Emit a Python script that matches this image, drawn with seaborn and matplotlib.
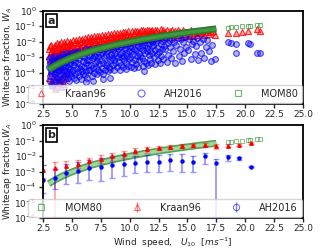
import numpy as np
import matplotlib
matplotlib.use("Agg")
import matplotlib.pyplot as plt
from matplotlib.lines import Line2D
from matplotlib.ticker import FixedLocator, NullLocator
import seaborn as sns

# -----------------------------
# Data (log10 of whitecap fraction W_A)
# -----------------------------
# panel a: individual estimates, (U10, log10 W)
kraan96_pts = [
    (3.02, -2.5), (3.06, -2.9), (3.1, -2.3), (3.14, -3.2), (3.18, -2.65), (3.22, -2.2),
    (3.26, -3.0), (3.3, -2.45), (3.34, -2.8), (3.38, -3.3), (3.42, -2.35), (3.46, -2.6),
    (3.52, -2.75), (3.56, -2.2), (3.6, -3.05), (3.64, -2.5), (3.68, -2.9), (3.72, -2.1),
    (3.76, -2.65), (3.8, -3.2), (3.84, -2.35), (3.88, -2.8), (3.92, -2.15), (3.96, -2.55),
    (4.02, -2.4), (4.06, -2.85), (4.1, -2.05), (4.14, -2.6), (4.18, -3.05), (4.22, -2.25),
    (4.26, -2.7), (4.3, -2.0), (4.34, -2.5), (4.38, -2.95), (4.42, -2.15), (4.46, -2.6),
    (4.52, -2.3), (4.56, -2.75), (4.6, -1.95), (4.64, -2.5), (4.68, -2.95), (4.72, -2.15),
    (4.76, -2.6), (4.8, -2.0), (4.84, -2.4), (4.88, -2.85), (4.92, -2.1), (4.96, -2.55),
    (5.03, -2.2), (5.08, -2.65), (5.13, -1.9), (5.18, -2.45), (5.23, -2.85), (5.28, -2.05),
    (5.33, -2.55), (5.38, -1.88), (5.43, -2.3), (5.48, -2.75),
    (5.53, -2.1), (5.58, -2.5), (5.63, -1.82), (5.68, -2.35), (5.73, -2.75), (5.78, -1.98),
    (5.83, -2.4), (5.88, -1.8), (5.93, -2.2), (5.98, -2.6),
    (6.03, -2.0), (6.08, -2.45), (6.13, -1.75), (6.18, -2.25), (6.23, -2.65), (6.28, -1.9),
    (6.33, -2.35), (6.38, -1.72), (6.43, -2.1), (6.48, -2.5),
    (6.53, -1.95), (6.58, -2.35), (6.63, -1.7), (6.68, -2.15), (6.73, -2.55), (6.78, -1.85),
    (6.83, -2.25), (6.88, -1.66), (6.93, -2.05), (6.98, -2.4),
    (7.03, -1.9), (7.08, -2.3), (7.13, -1.64), (7.18, -2.1), (7.23, -2.45), (7.28, -1.8),
    (7.33, -2.2), (7.38, -1.62), (7.43, -1.98), (7.48, -2.35),
    (7.53, -1.85), (7.58, -2.25), (7.63, -1.58), (7.68, -2.05), (7.73, -2.4), (7.78, -1.75),
    (7.83, -2.12), (7.88, -1.56), (7.93, -1.95), (7.98, -2.3),
    (8.03, -1.8), (8.08, -2.15), (8.13, -1.52), (8.18, -1.98), (8.23, -2.32), (8.28, -1.68),
    (8.33, -2.05), (8.38, -1.5), (8.43, -1.88), (8.48, -2.2),
    (8.53, -1.72), (8.58, -2.1), (8.63, -1.47), (8.68, -1.92), (8.73, -2.25), (8.78, -1.62),
    (8.83, -2.0), (8.88, -1.45), (8.93, -1.82), (8.98, -2.15),
    (9.03, -1.68), (9.08, -2.02), (9.13, -1.42), (9.18, -1.85), (9.23, -2.18), (9.28, -1.58),
    (9.33, -1.95), (9.38, -1.4), (9.43, -1.75), (9.48, -2.08),
    (9.53, -1.62), (9.58, -1.95), (9.63, -1.36), (9.68, -1.8), (9.73, -2.1), (9.78, -1.5),
    (9.83, -1.88), (9.88, -1.33), (9.93, -1.7), (9.98, -2.0),
    (10.04, -1.55), (10.1, -1.9), (10.16, -1.32), (10.22, -1.72), (10.28, -2.02),
    (10.34, -1.45), (10.4, -1.82), (10.46, -1.3),
    (10.54, -1.62), (10.6, -1.95), (10.66, -1.3), (10.72, -1.5), (10.78, -1.85),
    (10.84, -1.38), (10.9, -1.7), (10.96, -1.28),
    (11.04, -1.55), (11.1, -1.88), (11.16, -1.27), (11.22, -1.45), (11.28, -1.78),
    (11.34, -1.33), (11.4, -1.65), (11.46, -1.25),
    (11.54, -1.5), (11.6, -1.82), (11.66, -1.24), (11.72, -1.4), (11.78, -1.72),
    (11.84, -1.3), (11.9, -1.6), (11.96, -1.22),
    (12.05, -1.45), (12.12, -1.78), (12.19, -1.22), (12.26, -1.38), (12.33, -1.65),
    (12.4, -1.28), (12.47, -1.55),
    (12.55, -1.42), (12.62, -1.72), (12.69, -1.2), (12.76, -1.35), (12.83, -1.6),
    (12.9, -1.25), (12.97, -1.5),
    (13.06, -1.4), (13.16, -1.68), (13.26, -1.22), (13.36, -1.5), (13.46, -1.32),
    (13.56, -1.6), (13.66, -1.25), (13.76, -1.45), (13.86, -1.7), (13.96, -1.3),
    (14.06, -1.45), (14.17, -1.25), (14.28, -1.6), (14.39, -1.35), (14.5, -1.7),
    (14.61, -1.28), (14.72, -1.5), (14.83, -1.4), (14.94, -1.62),
    (15.08, -1.35), (15.2, -1.55), (15.32, -1.27), (15.44, -1.65), (15.56, -1.42),
    (15.68, -1.3), (15.8, -1.58), (15.92, -1.38),
    (16.1, -1.45), (16.25, -1.3), (16.4, -1.6), (16.55, -1.38), (16.7, -1.27),
    (16.85, -1.52), (17.0, -1.4), (17.2, -1.32), (17.4, -1.55),
    (18.5, -1.46), (19.2, -1.42), (19.7, -1.4), (20.2, -1.32), (21.0, -1.21), (21.3, -1.32),
    (3.05, -4.3), (3.15, -4.6), (3.2, -3.9), (3.3, -4.8), (3.45, -4.4), (3.55, -5.05),
    (3.65, -4.2), (3.8, -4.65), (3.9, -3.8), (4.0, -4.45), (4.1, -4.9), (4.25, -4.1),
    (4.35, -4.7), (4.45, -4.35), (3.35, -3.6), (3.75, -3.5), (4.6, -4.0),
]

ah2016_pts = [
    (3.02, -3.1), (3.05, -3.6), (3.08, -4.2), (3.11, -3.35), (3.14, -4.55), (3.17, -3.85),
    (3.2, -3.0), (3.23, -4.0), (3.27, -3.5), (3.3, -4.7), (3.33, -3.25), (3.37, -3.95),
    (3.41, -4.35), (3.44, -3.7), (3.47, -3.15),
    (3.52, -3.4), (3.55, -4.1), (3.58, -2.9), (3.62, -3.75), (3.65, -4.5), (3.68, -3.2),
    (3.72, -3.95), (3.75, -4.3), (3.78, -3.55), (3.82, -3.05), (3.85, -4.6), (3.88, -3.8),
    (3.92, -3.3), (3.95, -4.15), (3.98, -3.6),
    (4.02, -3.0), (4.05, -3.7), (4.08, -4.4), (4.12, -3.35), (4.15, -2.8), (4.18, -4.0),
    (4.22, -3.55), (4.25, -4.55), (4.28, -3.15), (4.32, -3.85), (4.35, -4.25), (4.38, -2.95),
    (4.42, -3.65), (4.45, -4.1), (4.48, -3.4),
    (4.52, -2.75), (4.55, -3.9), (4.58, -3.25), (4.62, -4.35), (4.65, -3.6), (4.68, -2.9),
    (4.72, -4.05), (4.75, -3.45), (4.78, -4.5), (4.82, -3.1), (4.85, -3.75), (4.88, -2.7),
    (4.92, -4.2), (4.95, -3.35), (4.98, -3.95),
    (5.02, -3.2), (5.06, -2.65), (5.1, -3.85), (5.14, -4.3), (5.18, -3.5), (5.22, -2.85),
    (5.26, -4.05), (5.3, -3.3), (5.34, -4.45), (5.38, -3.0), (5.42, -3.7), (5.46, -2.75),
    (5.49, -3.95),
    (5.52, -3.4), (5.56, -2.6), (5.6, -4.2), (5.64, -3.1), (5.68, -3.75), (5.72, -2.8),
    (5.76, -4.4), (5.8, -3.55), (5.84, -2.95), (5.88, -3.9), (5.92, -3.25), (5.96, -4.1),
    (5.99, -2.7),
    (6.02, -3.0), (6.06, -3.65), (6.1, -2.5), (6.14, -4.15), (6.18, -3.35), (6.22, -2.75),
    (6.26, -3.9), (6.3, -3.15), (6.34, -4.3), (6.38, -2.6), (6.42, -3.5), (6.46, -2.9),
    (6.49, -3.8),
    (6.52, -3.2), (6.56, -2.45), (6.6, -3.85), (6.64, -2.8), (6.68, -3.5), (6.72, -4.2),
    (6.76, -2.6), (6.8, -3.05), (6.84, -3.7), (6.88, -2.95), (6.92, -4.0), (6.96, -3.35),
    (6.99, -2.5),
    (7.02, -2.9), (7.06, -3.6), (7.1, -2.4), (7.14, -4.1), (7.18, -3.25), (7.22, -2.65),
    (7.26, -3.8), (7.3, -3.0), (7.34, -3.45), (7.38, -2.5), (7.42, -3.95), (7.46, -2.8),
    (7.52, -3.15), (7.56, -2.35), (7.6, -3.7), (7.64, -2.7), (7.68, -4.05), (7.72, -3.35),
    (7.76, -2.55), (7.8, -3.0), (7.84, -3.85), (7.88, -2.4), (7.92, -3.5), (7.96, -2.85),
    (8.02, -2.6), (8.06, -3.4), (8.1, -2.25), (8.14, -3.9), (8.18, -2.95), (8.22, -3.6),
    (8.26, -2.45), (8.3, -3.2), (8.34, -3.75), (8.38, -2.8), (8.42, -2.3), (8.46, -3.05),
    (8.52, -3.5), (8.56, -2.55), (8.6, -2.2), (8.64, -3.15), (8.68, -3.85), (8.72, -2.75),
    (8.76, -3.35), (8.8, -2.4), (8.84, -2.95), (8.88, -3.65), (8.92, -2.25), (8.96, -3.0),
    (9.02, -2.5), (9.06, -3.3), (9.1, -2.15), (9.14, -3.8), (9.18, -2.8), (9.22, -3.5),
    (9.26, -2.35), (9.3, -3.05), (9.34, -2.65), (9.38, -3.65), (9.42, -2.2), (9.46, -2.95),
    (9.52, -3.2), (9.56, -2.45), (9.6, -2.05), (9.64, -3.75), (9.68, -2.7), (9.72, -3.4),
    (9.76, -2.25), (9.8, -2.9), (9.84, -3.55), (9.88, -2.15), (9.92, -2.6), (9.96, -3.1),
    (10.03, -2.35), (10.07, -3.0), (10.11, -2.0), (10.15, -3.6), (10.19, -2.6), (10.23, -3.3),
    (10.27, -2.15), (10.31, -2.8), (10.35, -3.7), (10.39, -2.45), (10.43, -1.98), (10.47, -3.15),
    (10.53, -2.55), (10.57, -3.45), (10.61, -1.95), (10.65, -2.9), (10.69, -2.25), (10.73, -3.65),
    (10.77, -2.7), (10.81, -2.1), (10.85, -3.2), (10.89, -2.4), (10.93, -2.95), (10.97, -1.92),
    (11.03, -2.3), (11.07, -3.05), (11.11, -1.9), (11.15, -3.55), (11.19, -2.55), (11.23, -2.05),
    (11.27, -3.25), (11.31, -2.75), (11.35, -2.2), (11.39, -3.4), (11.43, -1.88), (11.47, -2.6),
    (11.53, -2.4), (11.57, -3.5), (11.61, -1.85), (11.65, -2.85), (11.69, -2.15), (11.73, -3.1),
    (11.77, -2.6), (11.81, -1.95), (11.85, -3.35), (11.89, -2.3), (11.93, -2.0), (11.97, -2.75),
    (12.03, -2.2), (12.08, -3.0), (12.13, -1.8), (12.18, -2.55), (12.23, -3.45), (12.28, -2.05),
    (12.33, -2.8), (12.38, -1.9), (12.43, -3.2), (12.48, -2.4),
    (12.53, -2.65), (12.58, -1.78), (12.63, -3.35), (12.68, -2.15), (12.73, -2.9), (12.78, -1.95),
    (12.83, -2.45), (12.88, -3.1), (12.93, -1.85), (12.98, -2.3),
    (13.05, -2.5), (13.12, -1.75), (13.2, -3.3), (13.28, -2.1), (13.35, -2.85), (13.43, -1.9),
    (13.5, -2.35), (13.58, -3.05), (13.66, -1.8), (13.74, -2.6), (13.82, -2.05), (13.9, -3.4),
    (14.05, -2.2), (14.14, -1.75), (14.23, -2.9), (14.32, -2.45), (14.41, -1.85), (14.5, -3.25),
    (14.6, -2.05), (14.7, -2.7), (14.8, -1.72), (14.9, -2.35),
    (15.06, -2.55), (15.17, -1.8), (15.28, -3.1), (15.39, -2.15), (15.5, -1.95), (15.61, -2.8),
    (15.72, -2.3), (15.83, -1.75), (15.94, -3.2),
    (16.08, -2.0), (16.2, -2.7), (16.32, -1.85), (16.45, -3.05), (16.58, -2.35), (16.72, -1.9),
    (16.85, -2.6), (17.0, -3.25), (17.15, -2.2), (17.35, -3.1),
    (18.5, -2.0), (18.8, -2.06), (19.2, -2.15), (19.2, -2.7), (20.2, -2.06), (20.4, -2.16),
    (21.0, -2.7), (21.3, -2.7),
    (3.25, -4.85), (3.6, -4.95), (4.2, -4.9), (6.2, -4.6), (6.8, -4.55), (7.7, -4.4),
    (8.3, -4.3), (11.2, -3.9),
]

# MOM80 curve (dense part) and the few high-wind points
mom80_u = [3.0, 3.5, 4.0, 4.5, 5.0, 5.5, 6.0, 6.5, 7.0, 7.5, 8.0, 8.5, 9.0, 9.5, 10.0,
           10.5, 11.0, 11.5, 12.0, 12.5, 13.0, 13.5, 14.0, 14.5, 15.0, 15.5, 16.0,
           16.5, 17.0, 17.5]
mom80_logw = [-3.79, -3.56, -3.36, -3.19, -3.03, -2.89, -2.76, -2.64, -2.53, -2.43,
              -2.34, -2.25, -2.16, -2.09, -2.01, -1.94, -1.87, -1.80, -1.74, -1.68,
              -1.62, -1.57, -1.51, -1.46, -1.41, -1.36, -1.31, -1.27, -1.22, -1.18]
mom80_u_high = [18.5, 18.8, 19.2, 19.7, 20.2, 20.4, 21.0, 21.3]
mom80_logw_high = [-1.10, -1.08, -1.05, -1.02, -0.99, -0.97, -0.93, -0.91]

# panel b: bin means with error range (low / high), log10
bin_u = [2.5, 3.5, 4.5, 5.5, 6.5, 7.5, 8.5, 9.5, 10.5, 11.5, 12.5, 13.5, 14.5, 15.5,
         16.5, 17.5, 18.5, 19.5, 20.5]
kraan_mean = [-2.9, -2.75, -2.65, -2.5, -2.35, -2.17, -2.0, -1.85, -1.68, -1.57, -1.46,
              -1.4, -1.34, -1.31, -1.27, -1.35, -1.33, -1.27, -1.18]
kraan_low = [-3.4, -7.0, -3.1, -2.8, -2.65, -2.45, -2.3, -2.1, -1.9, -1.78, -1.62,
             -1.55, -1.48, -1.45, -1.4, -1.55, -1.45, -1.35, -1.25]
kraan_high = [-2.6, -2.4, -2.3, -2.25, -2.1, -1.95, -1.8, -1.65, -1.5, -1.42, -1.33,
              -1.28, -1.23, -1.2, -1.17, -1.22, -1.25, -1.2, -1.12]
ah_mean = [-3.55, -3.4, -3.12, -2.95, -2.8, -2.7, -2.6, -2.5, -2.43, -2.37, -2.37,
           -2.26, -2.3, -2.4, -2.0, -2.47, -2.08, -2.15, -2.69]
ah_low = [-4.4, -4.1, -3.8, -3.75, -3.55, -3.6, -3.4, -3.3, -3.1, -3.05, -3.0,
          -2.95, -3.0, -3.05, -2.5, -7.0, -2.35, -2.25, -2.72]
ah_high = [-2.6, -2.85, -2.5, -2.4, -2.25, -2.1, -2.0, -1.95, -2.0, -1.92, -1.95,
           -1.9, -1.9, -1.98, -1.78, -2.2, -1.92, -2.05, -2.66]

xticks = [2.5, 5.0, 7.5, 10.0, 12.5, 15.0, 17.5, 20.0, 22.5, 25.0]
ytick_exp = [0, -1, -2, -3, -4, -5, -6]

# -----------------------------
# Plot Style
# -----------------------------
sns.set_style("ticks")
plt.rcParams["font.family"] = ["DejaVu Sans"]
plt.rcParams["axes.linewidth"] = 1.3
plt.rcParams["xtick.labelsize"] = 6.5
plt.rcParams["ytick.labelsize"] = 6.5
plt.rcParams["xtick.major.size"] = 3
plt.rcParams["ytick.major.size"] = 3

RED = "#ff0000"
BLUE = "#0000ff"
MOM_EDGE = "#3a9a3a"

fig = plt.figure(figsize=(3.2, 2.52), dpi=100)
ax_a = fig.add_axes([0.1344, 0.5873, 0.8125, 0.371])
ax_b = fig.add_axes([0.1344, 0.1349, 0.8125, 0.369])


def style_axis(ax, ylabel, tag):
    ax.set_yscale("log")
    ax.set_xlim(2.5, 25.0)
    ax.set_ylim(1e-6, 1.0)
    ax.xaxis.set_major_locator(FixedLocator(xticks))
    ax.set_xticklabels([f"{t:.1f}" for t in xticks])
    ax.yaxis.set_major_locator(FixedLocator([10.0 ** e for e in ytick_exp]))
    ax.yaxis.set_minor_locator(NullLocator())
    ax.set_ylabel(ylabel, fontsize=6.5, labelpad=0.5)
    ax.tick_params(axis="both", pad=1.5, width=1)
    for s in ax.spines.values():
        s.set_color("black")
    ax.text(0.017, 0.945, tag, transform=ax.transAxes, fontsize=8, weight="bold",
            va="top", ha="left",
            bbox=dict(boxstyle="square,pad=0.15", fc="white", ec="black", lw=1.2))


# ============================================================
# PANEL A
# ============================================================
ku, kw = zip(*kraan96_pts)
au, aw = zip(*ah2016_pts)

sns.scatterplot(x=list(ku), y=[10.0 ** v for v in kw], ax=ax_a, marker="^", s=19,
                color=RED, facecolor=(1, 0, 0, 0.35), edgecolor=(1, 0, 0, 0.8),
                linewidth=0.8, legend=False)
sns.scatterplot(x=list(au), y=[10.0 ** v for v in aw], ax=ax_a, marker="o", s=17,
                color=BLUE, facecolor=(0, 0, 1, 0.3), edgecolor=(0, 0, 1, 0.7),
                linewidth=0.8, legend=False)
mom_w = [10.0 ** v for v in mom80_logw]
mom_w_high = [10.0 ** v for v in mom80_logw_high]
ax_a.plot(mom80_u, mom_w, color="#2a7a2a", lw=5, solid_capstyle="butt")
ax_a.plot(mom80_u, mom_w, color="#3f9a3f", lw=2.5, solid_capstyle="butt")
ax_a.plot(mom80_u_high, mom_w_high, ls="none", marker="s", ms=3, mfc="none",
          mec=MOM_EDGE, mew=0.7, alpha=0.7)

style_axis(ax_a, "Whitecap fraction, $W_A$", "a")

handles_a = [
    Line2D([], [], ls="none", marker="^", ms=5, mfc="none", mec=RED, mew=0.8, alpha=0.6),
    Line2D([], [], ls="none", marker="o", ms=5, mfc="none", mec=BLUE, mew=0.8, alpha=0.6),
    Line2D([], [], ls="none", marker="s", ms=5, mfc="none", mec=MOM_EDGE, mew=0.8, alpha=0.7),
]
ax_a.legend(handles_a, ["Kraan96", "AH2016", "MOM80"], ncol=3, loc="lower right",
            fontsize=7, frameon=True, borderpad=0.4, columnspacing=2.6,
            handletextpad=1.4, bbox_to_anchor=(0.995, 0.015), borderaxespad=0.0)

# ============================================================
# PANEL B
# ============================================================
ax_b.plot(mom80_u, mom_w, color="#3d9a3d", lw=5, solid_capstyle="butt", alpha=0.9)
ax_b.plot(mom80_u, mom_w, color="#9fd89f", lw=2.6, solid_capstyle="butt")
ax_b.plot(mom80_u_high, mom_w_high, ls="none", marker="s", ms=3, mfc="none",
          mec=MOM_EDGE, mew=0.7, alpha=0.6)


def log_err(mean, low, high):
    m = np.array([10.0 ** v for v in mean])
    lo = m - np.array([10.0 ** v for v in low])
    hi = np.array([10.0 ** v for v in high]) - m
    return m, [lo, hi]


km, kerr = log_err(kraan_mean, kraan_low, kraan_high)
am, aerr = log_err(ah_mean, ah_low, ah_high)

ax_b.errorbar(bin_u, km, yerr=kerr, fmt="^", ms=2.5, color=RED, mfc=RED, mec=RED,
              ecolor=(1, 0, 0, 0.35), elinewidth=1.3, capsize=2, capthick=1)
ax_b.errorbar(bin_u, am, yerr=aerr, fmt="o", ms=2.2, color=BLUE, mfc=BLUE, mec=BLUE,
              ecolor=(0, 0, 1, 0.4), elinewidth=1.3, capsize=2, capthick=1)

style_axis(ax_b, "Whitecap fraction,$W_A$", "b")
ax_b.set_xlabel("Wind  speed,   $U_{10}$  $[ms^{-1}]$", fontsize=6.5, labelpad=2)

# legend handles for the error bar series drawn with open markers
kraan_h = ax_b.errorbar([], [], yerr=[], fmt="^", ms=4.5, mfc="none", mec=(1, 0, 0, 0.6),
                        mew=0.7, ecolor=(1, 0, 0, 0.5), elinewidth=1, capsize=2)
ah_h = ax_b.errorbar([], [], yerr=[], fmt="o", ms=4.5, mfc="none", mec=(0, 0, 1, 0.6),
                     mew=0.7, ecolor=(0, 0, 1, 0.5), elinewidth=1, capsize=2)
handles_b = [
    Line2D([], [], ls="none", marker="s", ms=5, mfc="none", mec=MOM_EDGE, mew=0.8, alpha=0.7),
    kraan_h,
    ah_h,
]
ax_b.legend(handles_b, ["MOM80", "Kraan96", "AH2016"], ncol=3, loc="lower right",
            fontsize=7, frameon=True, borderpad=0.4, columnspacing=2.6,
            handletextpad=1.4, bbox_to_anchor=(0.995, 0.015), borderaxespad=0.0)

fig.savefig("out.png", dpi=100)
plt.close(fig)
